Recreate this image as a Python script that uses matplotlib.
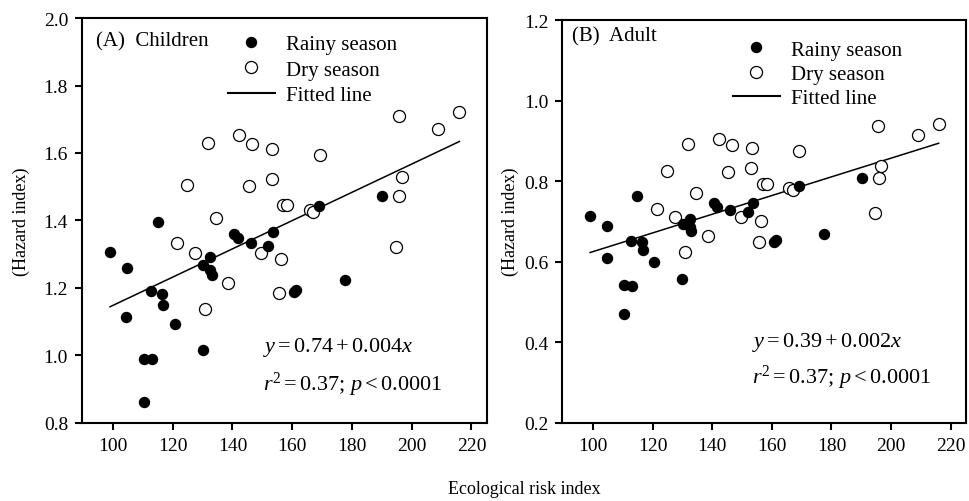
import numpy as np
import matplotlib
matplotlib.use('Agg')
import matplotlib.pyplot as plt
from matplotlib.lines import Line2D

plt.rcParams['font.family'] = ['Liberation Serif', 'DejaVu Serif']
plt.rcParams['mathtext.fontset'] = 'custom'
plt.rcParams['mathtext.rm'] = 'Liberation Serif'
plt.rcParams['mathtext.it'] = 'Liberation Serif:italic'

# Rainy season samples (ecological risk index, hazard index children / adult)
rainy_x = [99.0, 104.8, 104.5, 110.3, 110.5, 113.2, 112.6, 114.9, 116.5, 116.9,
           120.6, 130.0, 130.2, 132.5, 132.5, 133.0, 140.5, 141.7, 146.1, 151.9,
           153.6, 160.6, 161.4, 169.0, 177.6, 190.1]
rainy_child = [1.306, 1.258, 1.113, 0.861, 0.990, 0.990, 1.192, 1.395, 1.183, 1.149,
               1.094, 1.017, 1.269, 1.291, 1.254, 1.239, 1.360, 1.347, 1.332, 1.324,
               1.365, 1.189, 1.194, 1.442, 1.223, 1.473]
rainy_adult = [0.714, 0.688, 0.609, 0.470, 0.542, 0.540, 0.652, 0.763, 0.648, 0.629,
               0.598, 0.557, 0.693, 0.707, 0.686, 0.677, 0.745, 0.736, 0.729, 0.724,
               0.746, 0.650, 0.653, 0.788, 0.668, 0.807]

# Dry season samples
dry_x = [121.4, 124.9, 127.5, 130.9, 131.8, 134.4, 138.4, 142.1, 145.4, 146.7,
         149.7, 153.1, 153.3, 155.6, 156.2, 157.0, 158.3, 165.9, 167.0, 169.2,
         194.6, 195.7, 195.8, 196.7, 208.9, 216.0]
dry_child = [1.332, 1.504, 1.303, 1.138, 1.629, 1.407, 1.213, 1.653, 1.502, 1.626,
             1.304, 1.523, 1.612, 1.185, 1.286, 1.446, 1.446, 1.432, 1.424, 1.595,
             1.322, 1.711, 1.473, 1.529, 1.671, 1.722]
dry_adult = [0.730, 0.824, 0.712, 0.623, 0.893, 0.770, 0.664, 0.904, 0.823, 0.890,
             0.712, 0.833, 0.883, 0.648, 0.701, 0.793, 0.793, 0.783, 0.778, 0.874,
             0.722, 0.937, 0.807, 0.837, 0.914, 0.943]

# fitted lines (intercept, slope) as drawn
fit_child = (0.729, 0.00419)
fit_adult = (0.393, 0.00232)

panels = [
    dict(rect=[0.0845, 0.156, 0.4175, 0.806], rain=rainy_child, dry=dry_child,
         fit=fit_child, ylim=(0.8, 2.0), yticks=np.arange(0.8, 2.01, 0.2),
         title='(A)  Children', title_pos=(0.035, 0.944), leg_pos=(0.360, 0.872),
         legsp=0.28, eq='$y = 0.74 + 0.004x$', eq_pos=(0.447, 0.188),
         eq2_pos=(0.447, 0.096), ylab_x=0.022),
    dict(rect=[0.5795, 0.156, 0.4165, 0.802], rain=rainy_adult, dry=dry_adult,
         fit=fit_adult, ylim=(0.2, 1.2), yticks=np.arange(0.2, 1.21, 0.2),
         title='(B)  Adult', title_pos=(0.025, 0.960), leg_pos=(0.423, 0.866),
         legsp=0.22, eq='$y = 0.39 + 0.002x$', eq_pos=(0.470, 0.202),
         eq2_pos=(0.470, 0.113), ylab_x=0.526),
]

fig = plt.figure(figsize=(9.7, 5.02), dpi=100)

for p in panels:
    ax = fig.add_axes(p['rect'])
    ax.scatter(dry_x, p['dry'], s=75, facecolors='white', edgecolors='black',
               linewidths=0.9, zorder=3)
    ax.scatter(rainy_x, p['rain'], s=52, color='black', zorder=4)
    xs = np.array([min(rainy_x), max(dry_x)])
    ax.plot(xs, p['fit'][0] + p['fit'][1] * xs, color='black', lw=1.1, zorder=2)

    ax.set_xlim(89.6, 225.2)
    ax.set_ylim(*p['ylim'])
    ax.set_xticks(np.arange(100, 221, 20))
    ax.set_yticks(p['yticks'])
    ax.set_yticklabels(['%.1f' % v for v in p['yticks']])
    ax.tick_params(direction='out', length=5, width=1.5, labelsize=14,
                   top=False, right=False, pad=5)
    for s in ax.spines.values():
        s.set_linewidth(1.5)

    ax.text(p['title_pos'][0], p['title_pos'][1], p['title'], transform=ax.transAxes,
            fontsize=15, va='center', ha='left')
    ax.text(p['eq_pos'][0], p['eq_pos'][1], p['eq'], transform=ax.transAxes,
            fontsize=16, va='center', ha='left')
    ax.text(p['eq2_pos'][0], p['eq2_pos'][1], '$r^2 = 0.37$; $p < 0.0001$',
            transform=ax.transAxes, fontsize=16, va='center', ha='left')

    handles = [
        Line2D([], [], ls='none', marker='o', ms=7.2, color='black'),
        Line2D([], [], ls='none', marker='o', ms=8.7, mfc='white', mec='black', mew=0.9),
        Line2D([], [], color='black', lw=1.5),
    ]
    ax.legend(handles, ['Rainy season', 'Dry season', 'Fitted line'],
              loc='center left', bbox_to_anchor=p['leg_pos'], frameon=False,
              fontsize=15, borderpad=0, borderaxespad=0, handlelength=2.25,
              handletextpad=0.55, labelspacing=p['legsp'])

    fig.text(p['ylab_x'], 0.558, '(Hazard index)', rotation=90, fontsize=13,
             ha='center', va='center')

fig.text(0.541, 0.024, 'Ecological risk index', fontsize=13, ha='center', va='center')

fig.savefig('out.png', dpi=100)
